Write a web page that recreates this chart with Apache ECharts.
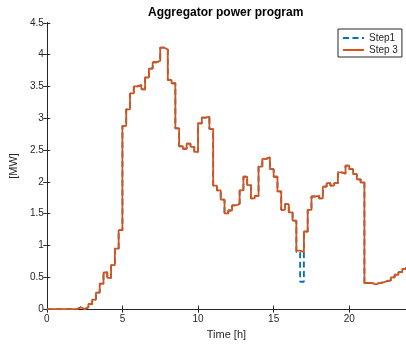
<!DOCTYPE html>
<html>
<head>
<meta charset="utf-8">
<script src="https://cdn.jsdelivr.net/npm/echarts@6/dist/echarts.min.js"></script>
<style>
html,body{margin:0;padding:0;background:#fff;}
#c{width:406px;height:345px;}
</style>
</head>
<body>
<div id="c"></div>
<script>
// time in hours, 15-minute steps 0 .. 23.75
const timeH = [];
for (let i = 0; i < 96; i++) timeH.push(i * 0.25);

const step1 = [
  0, 0, 0, 0, 0, 0, 0, 0,
  0.03, 0.0, 0.03, 0.08, 0.15, 0.26, 0.40, 0.575,
  0.49, 0.69, 0.95, 1.24, 2.88, 3.14, 3.39, 3.50,
  3.52, 3.455, 3.64, 3.78, 3.88, 3.90, 4.11, 4.08,
  3.60, 3.55, 2.84, 2.56, 2.52, 2.60, 2.55, 2.47,
  2.92, 3.01, 3.025, 2.83, 1.94, 1.865, 1.72, 1.505,
  1.55, 1.63, 1.655, 1.865, 2.08, 1.95, 1.74, 1.78,
  2.24, 2.36, 2.385, 2.20, 2.08, 1.85, 1.56, 1.65,
  1.52, 1.39, 0.90, 0.43, 1.22, 1.56, 1.77, 1.78,
  1.74, 1.925, 1.98, 1.94, 1.98, 2.15, 2.13, 2.255,
  2.20, 2.12, 2.04, 1.99, 0.41, 0.41, 0.39, 0.41,
  0.42, 0.44, 0.45, 0.50, 0.54, 0.58, 0.63, 0.66
];

const step3 = [
  0, 0, 0, 0, 0, 0, 0, 0,
  0.03, 0.0, 0.03, 0.08, 0.15, 0.26, 0.40, 0.575,
  0.49, 0.69, 0.95, 1.24, 2.88, 3.14, 3.39, 3.50,
  3.52, 3.455, 3.64, 3.78, 3.88, 3.90, 4.11, 4.08,
  3.60, 3.55, 2.84, 2.56, 2.52, 2.60, 2.55, 2.47,
  2.92, 3.01, 3.025, 2.83, 1.94, 1.865, 1.72, 1.505,
  1.55, 1.63, 1.655, 1.865, 2.08, 1.95, 1.74, 1.78,
  2.24, 2.36, 2.385, 2.20, 2.08, 1.85, 1.56, 1.65,
  1.52, 1.39, 0.92, 0.895, 1.22, 1.56, 1.77, 1.78,
  1.74, 1.925, 1.98, 1.94, 1.98, 2.15, 2.13, 2.255,
  2.20, 2.12, 2.04, 1.99, 0.41, 0.41, 0.39, 0.41,
  0.42, 0.44, 0.45, 0.50, 0.54, 0.58, 0.63, 0.66
];

const seriesNames = ['Step1', 'Step 3'];
const titleText = 'Aggregator power program';
const xName = 'Time [h]';
const yName = '[MW]';

const FONT = '"Liberation Sans", Arial, Helvetica, sans-serif';
const AX = '#262626';

function pairs(vals) { return timeH.map((t, i) => [t, vals[i]]); }

const chart = echarts.init(document.getElementById('c'), null, {renderer: 'canvas'});

const xCommon = {
  type: 'value', min: 0, max: 23.75, interval: 5,
  axisLine: {show: true, lineStyle: {color: AX, width: 1}},
  axisTick: {show: true, inside: true, length: 3.5, lineStyle: {color: AX}},
  splitLine: {show: false}
};
const yCommon = {
  type: 'value', min: 0, max: 4.5, interval: 0.5,
  axisLine: {show: true, lineStyle: {color: AX, width: 1}},
  axisTick: {show: true, inside: true, length: 3.5, lineStyle: {color: AX}},
  splitLine: {show: false}
};

chart.setOption({
  animation: false,
  backgroundColor: '#fff',
  title: {
    text: titleText, left: 148, top: 7, padding: 0,
    textStyle: {fontFamily: FONT, fontSize: 12, fontWeight: 'bold', color: '#000'}
  },
  legend: {
    orient: 'vertical', left: 338, top: 29,
    padding: [4, 4, 2, 4], itemGap: 2, itemWidth: 21, itemHeight: 10,
    borderColor: AX, borderWidth: 1, backgroundColor: '#fff',
    itemStyle: {opacity: 0, borderWidth: 0},
    textStyle: {fontFamily: FONT, fontSize: 10, color: AX},
    data: seriesNames
  },
  grid: {left: 44.3, top: 22.8, width: 364.1, height: 286.5, containLabel: false},
  xAxis: [
    Object.assign({}, xCommon, {
      position: 'bottom',
      name: xName, nameLocation: 'middle', nameGap: 18,
      nameTextStyle: {fontFamily: FONT, fontSize: 11, color: AX},
      axisLabel: {show: true, margin: 5, fontFamily: FONT, fontSize: 10, color: AX, showMaxLabel: false}
    }),
    Object.assign({}, xCommon, {position: 'top', axisLabel: {show: false}})
  ],
  yAxis: [
    Object.assign({}, yCommon, {
      position: 'left',
      name: yName, nameLocation: 'middle', nameGap: 17, nameRotate: 90,
      nameTextStyle: {fontFamily: FONT, fontSize: 11, color: AX},
      axisLabel: {show: true, margin: 3, fontFamily: FONT, fontSize: 10, color: AX}
    }),
    Object.assign({}, yCommon, {position: 'right', axisLabel: {show: false}})
  ],
  series: [
    {
      name: seriesNames[0], type: 'line', step: 'end', showSymbol: false, symbol: 'none',
      data: pairs(step1), color: '#0072BD',
      lineStyle: {color: '#0072BD', width: 1.8, type: [6, 3.5]},
      z: 2
    },
    {
      name: seriesNames[1], type: 'line', step: 'end', showSymbol: false, symbol: 'none',
      data: pairs(step3), color: '#D95319',
      lineStyle: {color: '#D95319', width: 1.8, type: 'solid'},
      z: 3
    }
  ]
});
</script>
</body>
</html>
